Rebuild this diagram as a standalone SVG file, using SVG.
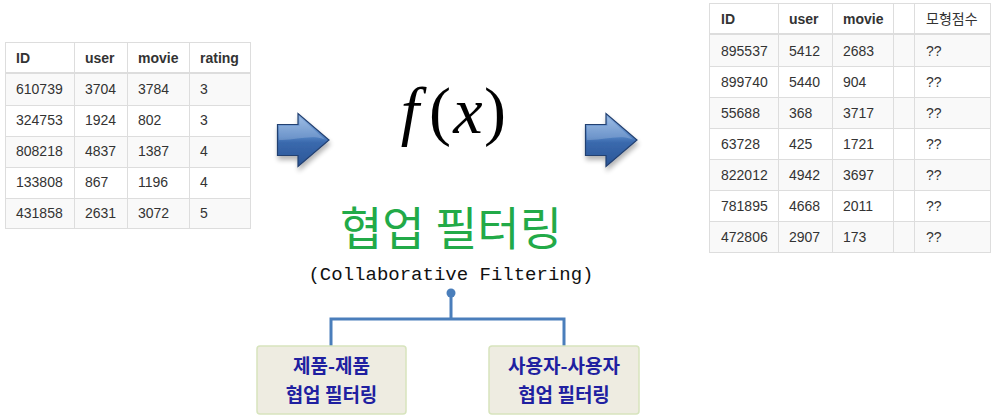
<svg xmlns="http://www.w3.org/2000/svg" width="995" height="416" viewBox="0 0 995 416">
<style>
.tb{font-family:"Liberation Sans",Arial,"Noto Sans CJK KR",sans-serif;font-size:14px;fill:#333}
.th{font-weight:bold}
.grid{stroke:#dddddd;stroke-width:1;fill:none}
.hline{stroke:#dddddd;stroke-width:2}
.stripe{fill:#f9f9f9}
.math{font-family:"Liberation Serif","Times New Roman",serif;font-size:66px;fill:#000;text-anchor:middle}
.box{fill:#eeece1;stroke:#d7e4bd;stroke-width:1.5}
.boxt{font-family:"Noto Sans CJK KR","Liberation Sans",sans-serif;font-size:19px;font-weight:bold;fill:#2020a0;text-anchor:middle}
.conn{stroke:#4a7ebb;stroke-width:3;fill:none}
.arrow{fill:url(#ag);stroke:#223f70;stroke-width:1.2;filter:url(#sh)}
</style>
<defs>
<linearGradient id="ag" x1="0" y1="0" x2="0" y2="1">
<stop offset="0" stop-color="#8fb4e3"/>
<stop offset="0.45" stop-color="#4f7fc0"/>
<stop offset="0.55" stop-color="#3a69ad"/>
<stop offset="1" stop-color="#2a5596"/>
</linearGradient>
<filter id="sh" x="-30%" y="-30%" width="160%" height="160%">
<feGaussianBlur in="SourceAlpha" stdDeviation="2.5"/>
<feOffset dx="1" dy="4" result="b"/>
<feComponentTransfer><feFuncA type="linear" slope="0.3"/></feComponentTransfer>
<feMerge><feMergeNode/><feMergeNode in="SourceGraphic"/></feMerge>
</filter>
</defs>
<rect width="995" height="416" fill="#ffffff"/>

<g id="table-input">
<rect class="stripe" x="5" y="74" width="246" height="31"/>
<rect class="stripe" x="5" y="136" width="246" height="31"/>
<rect class="stripe" x="5" y="198" width="246" height="31"/>
<rect class="grid" x="5.5" y="42.5" width="245" height="186"/>
<line class="hline" x1="5" y1="73" x2="251" y2="73"/>
<path class="grid" d="M5,105.5H251M5,136.5H251M5,167.5H251M5,198.5H251M74.5,42V229M127.5,42V229M189.5,42V229"/>
<g class="tb">
<text class="th" x="16" y="63">ID</text><text class="th" x="85" y="63">user</text><text class="th" x="138" y="63">movie</text><text class="th" x="200" y="63">rating</text>
<text x="16" y="94">610739</text><text x="85" y="94">3704</text><text x="138" y="94">3784</text><text x="200" y="94">3</text>
<text x="16" y="125">324753</text><text x="85" y="125">1924</text><text x="138" y="125">802</text><text x="200" y="125">3</text>
<text x="16" y="156">808218</text><text x="85" y="156">4837</text><text x="138" y="156">1387</text><text x="200" y="156">4</text>
<text x="16" y="187">133808</text><text x="85" y="187">867</text><text x="138" y="187">1196</text><text x="200" y="187">4</text>
<text x="16" y="218">431858</text><text x="85" y="218">2631</text><text x="138" y="218">3072</text><text x="200" y="218">5</text>
</g>
</g>

<g id="table-output">
<rect class="stripe" x="709" y="35" width="282" height="31"/>
<rect class="stripe" x="709" y="97" width="282" height="31"/>
<rect class="stripe" x="709" y="159" width="282" height="31"/>
<rect class="stripe" x="709" y="221" width="282" height="31"/>
<rect class="grid" x="709.5" y="3.5" width="281" height="249"/>
<line class="hline" x1="709" y1="34" x2="991" y2="34"/>
<path class="grid" d="M709,66.5H991M709,97.5H991M709,128.5H991M709,159.5H991M709,190.5H991M709,221.5H991M778.5,3V253M832.5,3V253M893.5,3V253M914.5,3V253"/>
<g class="tb">
<text class="th" x="721" y="24">ID</text><text class="th" x="789" y="24">user</text><text class="th" x="843" y="24">movie</text><text x="926" y="24">모형점수</text>
<text x="721" y="56">895537</text><text x="789" y="56">5412</text><text x="843" y="56">2683</text><text x="926" y="56">??</text>
<text x="721" y="87">899740</text><text x="789" y="87">5440</text><text x="843" y="87">904</text><text x="926" y="87">??</text>
<text x="721" y="118">55688</text><text x="789" y="118">368</text><text x="843" y="118">3717</text><text x="926" y="118">??</text>
<text x="721" y="149">63728</text><text x="789" y="149">425</text><text x="843" y="149">1721</text><text x="926" y="149">??</text>
<text x="721" y="180">822012</text><text x="789" y="180">4942</text><text x="843" y="180">3697</text><text x="926" y="180">??</text>
<text x="721" y="211">781895</text><text x="789" y="211">4668</text><text x="843" y="211">2011</text><text x="926" y="211">??</text>
<text x="721" y="242">472806</text><text x="789" y="242">2907</text><text x="843" y="242">173</text><text x="926" y="242">??</text>
</g>
</g>

<g id="arrow-left">
<path class="arrow" d="M277.5,124.5H298V113.5L329,140L298,166.5V155.5H277.5Z"/>
<path d="M279,126H299.5V117L325,139.5C310,134 295,141 279,140Z" fill="#ffffff" opacity="0.18"/>
</g>
<g id="arrow-right">
<path class="arrow" d="M585.5,124.5H606V113.5L637,140L606,166.5V155.5H585.5Z"/>
<path d="M587,126H607.5V117L633,139.5C618,134 603,141 587,140Z" fill="#ffffff" opacity="0.18"/>
</g>

<g id="function">
<text class="math" x="410" y="133" font-style="italic">f</text>
<text class="math" x="440" y="133">(</text>
<text class="math" x="468" y="133" font-style="italic">x</text>
<text class="math" x="495" y="133">)</text>
</g>

<g id="title">
<text x="451" y="245" font-family="'Noto Sans CJK KR',sans-serif" font-size="46" fill="#22aa48" text-anchor="middle">협업 필터링</text>
<text x="451" y="280" font-family="'Liberation Mono','DejaVu Sans Mono',monospace" font-size="19" fill="#111" text-anchor="middle">(Collaborative Filtering)</text>
</g>

<g id="connectors">
<circle cx="451" cy="293" r="4.5" fill="#4a7ebb"/>
<path class="conn" d="M451,293V319M331,346V319H564V346"/>
</g>

<g id="item-item">
<rect class="box" x="257" y="346" width="149" height="68" rx="3"/>
<text class="boxt" x="331.5" y="373">제품-제품</text>
<text class="boxt" x="331.5" y="402">협업 필터링</text>
</g>
<g id="user-user">
<rect class="box" x="489" y="346" width="150" height="68" rx="3"/>
<text class="boxt" x="564" y="373">사용자-사용자</text>
<text class="boxt" x="564" y="402">협업 필터링</text>
</g>
</svg>
